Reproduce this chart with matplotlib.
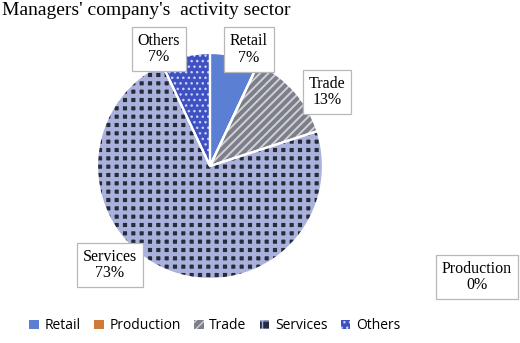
import matplotlib
matplotlib.use("Agg")
import matplotlib.pyplot as plt
from matplotlib.patches import Patch

# === Data ===
sectors = ["Retail", "Production", "Trade", "Services", "Others"]
shares = [7, 0, 13, 73, 7]  # percent

# === Styles ===
face_colors = ["#5b7fd3", "#d07a3a", "#7c7e88", "#262d3a", "#3f51c0"]
hatch_colors = ["#5b7fd3", "#d07a3a", "#cfd0d8", "#aab1dd", "#c8d0ff"]
hatches = [None, None, "////", "++", "..."]
hatch_lw = [1.0, 1.0, 1.4, 3.0, 1.0]
# label box centres (pie radius units, pie centre at 0,0)
label_pos = [(0.345, 1.03), (2.363, -0.982), (1.035, 0.655), (-0.885, -0.876), (-0.451, 1.035)]

fig = plt.figure(figsize=(5.2, 3.43), dpi=100)
ax = fig.add_axes([0, 0, 1, 1])

# filled + hatched wedges
wedges, _ = ax.pie(shares, startangle=90, counterclock=False, radius=1,
                   colors=face_colors, wedgeprops=dict(linewidth=0))
for w, h, hc, lw in zip(wedges, hatches, hatch_colors, hatch_lw):
    w.set_edgecolor(hc)
    if h:
        w.set_hatch(h)
        if hasattr(w, "set_hatch_linewidth"):
            w.set_hatch_linewidth(lw)

# white separators on top
ax.pie(shares, startangle=90, counterclock=False, radius=1,
       colors=["none"] * len(shares),
       wedgeprops=dict(linewidth=1.6, edgecolor="white"))

ax.set_aspect("auto")
ax.set_xlim(-210 / 113, 310 / 113)
ax.set_ylim(-177 / 113, 166 / 113)
ax.axis("off")

for name, val, (x, y) in zip(sectors, shares, label_pos):
    ax.text(x, y, f"{name}\n{val}%", ha="center", va="center",
            fontsize=11.5, family="Liberation Serif", linespacing=1.05,
            bbox=dict(boxstyle="square,pad=0.38", facecolor="white",
                      edgecolor="#b8b8b8", linewidth=0.9))

fig.text(0.004, 0.995, "Managers' company's  activity sector", ha="left", va="top",
         fontsize=14, family="Liberation Serif")

handles = []
for fc, hc, h, lw in zip(face_colors, hatch_colors, hatches, hatch_lw):
    p = Patch(facecolor=fc, edgecolor=hc, hatch=h, linewidth=0)
    if h and hasattr(p, "set_hatch_linewidth"):
        p.set_hatch_linewidth(lw)
    handles.append(p)
fig.legend(handles, sectors, loc="center", bbox_to_anchor=(0.413, 0.05), ncol=5,
           frameon=False, prop=dict(family="Open Sans", size=10),
           handlelength=0.7, handleheight=0.7, handletextpad=0.4, columnspacing=0.95)

fig.savefig("out.png", dpi=100)
